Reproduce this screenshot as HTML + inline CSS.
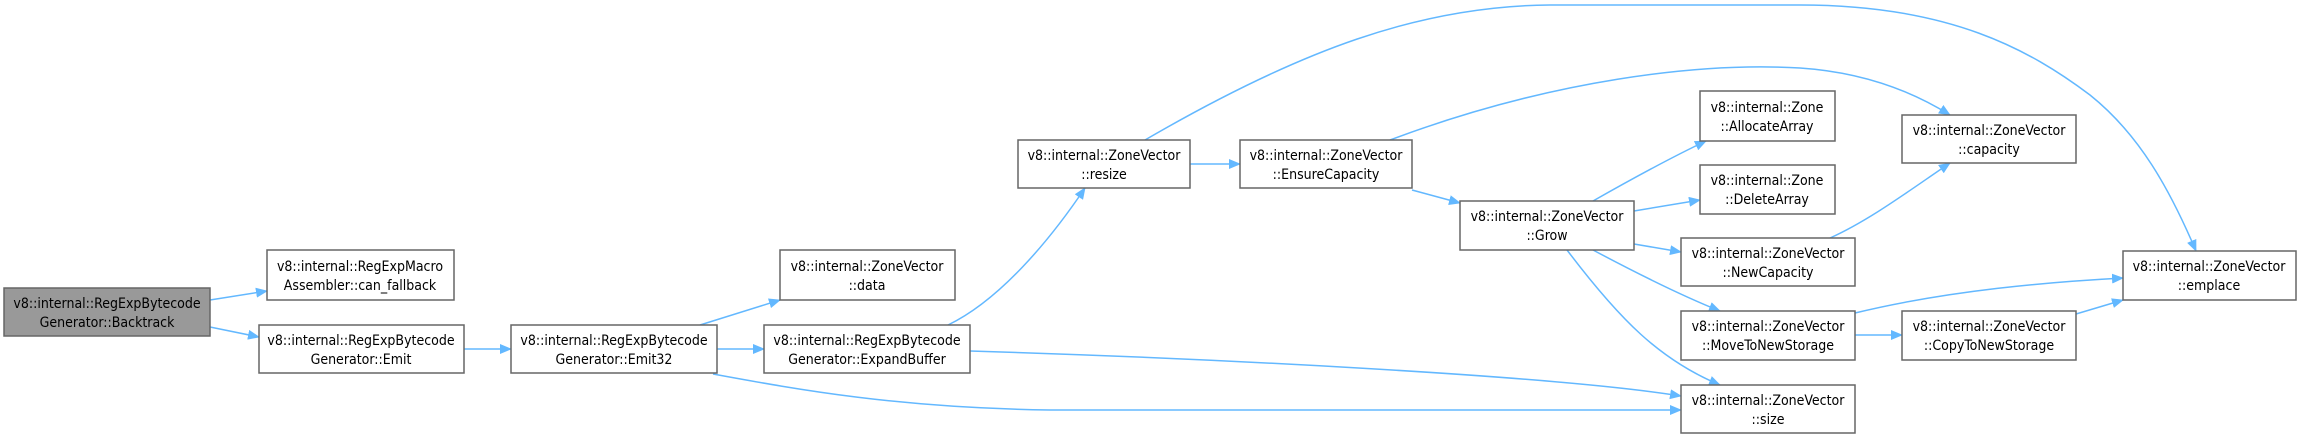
<!DOCTYPE html>
<html><head><meta charset="utf-8"><style>
html,body{margin:0;padding:0;background:#fff;width:2304px;height:440px;overflow:hidden}
svg{display:block}
text{font-family:"DejaVu Sans Condensed","Liberation Sans",sans-serif;font-size:14px;fill:#000;text-anchor:middle}
rect{fill:#fff;stroke:#666;stroke-width:1.5}
path{fill:none;stroke:#63b8ff;stroke-width:1.5}
</style></head><body>
<svg width="2304" height="440" viewBox="0 0 2304 440" xmlns="http://www.w3.org/2000/svg">
<defs><marker id="a" markerWidth="12" markerHeight="10" refX="11" refY="5" orient="auto" markerUnits="userSpaceOnUse"><polygon points="0,0 12,5 0,10" fill="#63b8ff"/></marker></defs>
<g marker-end="url(#a)">
<path d="M210,300 L267,291"/>
<path d="M210,327 L259,337"/>
<path d="M464,349 L511,349"/>
<path d="M700,325 L780,300"/>
<path d="M717,349 L764,349"/>
<path d="M713,374 C800,390 900,408 1050,410 L1681,410"/>
<path d="M948,325 C1000,300 1050,240 1085,188"/>
<path d="M970,351 C1200,358 1550,375 1681,396"/>
<path d="M1190,164 L1240,164"/>
<path d="M1145,140 C1300,50 1420,6 1550,5 L1800,5 C1950,5 2030,50 2090,95 C2140,135 2170,190 2196,251"/>
<path d="M1390,140 C1550,80 1700,62 1800,68 C1860,72 1910,90 1950,115"/>
<path d="M1412,190 L1460,203"/>
<path d="M1593,201 C1630,180 1670,158 1706,141"/>
<path d="M1634,211 L1700,200"/>
<path d="M1634,244 L1681,252"/>
<path d="M1593,250 C1640,275 1680,295 1720,311"/>
<path d="M1567,250 C1620,320 1660,360 1720,385"/>
<path d="M1830,238 C1870,220 1910,190 1950,163"/>
<path d="M1855,313 C1950,290 2050,282 2123,278"/>
<path d="M1855,335 L1902,335"/>
<path d="M2076,314 L2123,300"/>
</g>
<rect x="4" y="288" width="206" height="48" style="fill:#999"/>
<text x="107" y="308">v8::internal::RegExpBytecode</text><text x="107" y="327">Generator::Backtrack</text>
<rect x="267" y="250" width="187" height="50"/>
<text x="360" y="271">v8::internal::RegExpMacro</text><text x="360" y="290">Assembler::can_fallback</text>
<rect x="259" y="325" width="205" height="48"/>
<text x="361" y="345">v8::internal::RegExpBytecode</text><text x="361" y="364">Generator::Emit</text>
<rect x="511" y="325" width="206" height="48"/>
<text x="614" y="345">v8::internal::RegExpBytecode</text><text x="614" y="364">Generator::Emit32</text>
<rect x="780" y="250" width="175" height="50"/>
<text x="867" y="271">v8::internal::ZoneVector</text><text x="867" y="290">::data</text>
<rect x="764" y="325" width="206" height="48"/>
<text x="867" y="345">v8::internal::RegExpBytecode</text><text x="867" y="364">Generator::ExpandBuffer</text>
<rect x="1018" y="140" width="172" height="48"/>
<text x="1104" y="160">v8::internal::ZoneVector</text><text x="1104" y="179">::resize</text>
<rect x="1240" y="140" width="172" height="48"/>
<text x="1326" y="160">v8::internal::ZoneVector</text><text x="1326" y="179">::EnsureCapacity</text>
<rect x="1460" y="201" width="174" height="49"/>
<text x="1547" y="221">v8::internal::ZoneVector</text><text x="1547" y="240">::Grow</text>
<rect x="1700" y="91" width="135" height="50"/>
<text x="1767" y="112">v8::internal::Zone</text><text x="1767" y="131">::AllocateArray</text>
<rect x="1700" y="165" width="135" height="49"/>
<text x="1767" y="185">v8::internal::Zone</text><text x="1767" y="204">::DeleteArray</text>
<rect x="1681" y="238" width="174" height="48"/>
<text x="1768" y="258">v8::internal::ZoneVector</text><text x="1768" y="277">::NewCapacity</text>
<rect x="1681" y="311" width="174" height="49"/>
<text x="1768" y="331">v8::internal::ZoneVector</text><text x="1768" y="350">::MoveToNewStorage</text>
<rect x="1681" y="385" width="174" height="48"/>
<text x="1768" y="405">v8::internal::ZoneVector</text><text x="1768" y="424">::size</text>
<rect x="1902" y="115" width="174" height="48"/>
<text x="1989" y="135">v8::internal::ZoneVector</text><text x="1989" y="154">::capacity</text>
<rect x="1902" y="311" width="174" height="49"/>
<text x="1989" y="331">v8::internal::ZoneVector</text><text x="1989" y="350">::CopyToNewStorage</text>
<rect x="2123" y="251" width="173" height="49"/>
<text x="2209" y="271">v8::internal::ZoneVector</text><text x="2209" y="290">::emplace</text>
</svg>
</body></html>
